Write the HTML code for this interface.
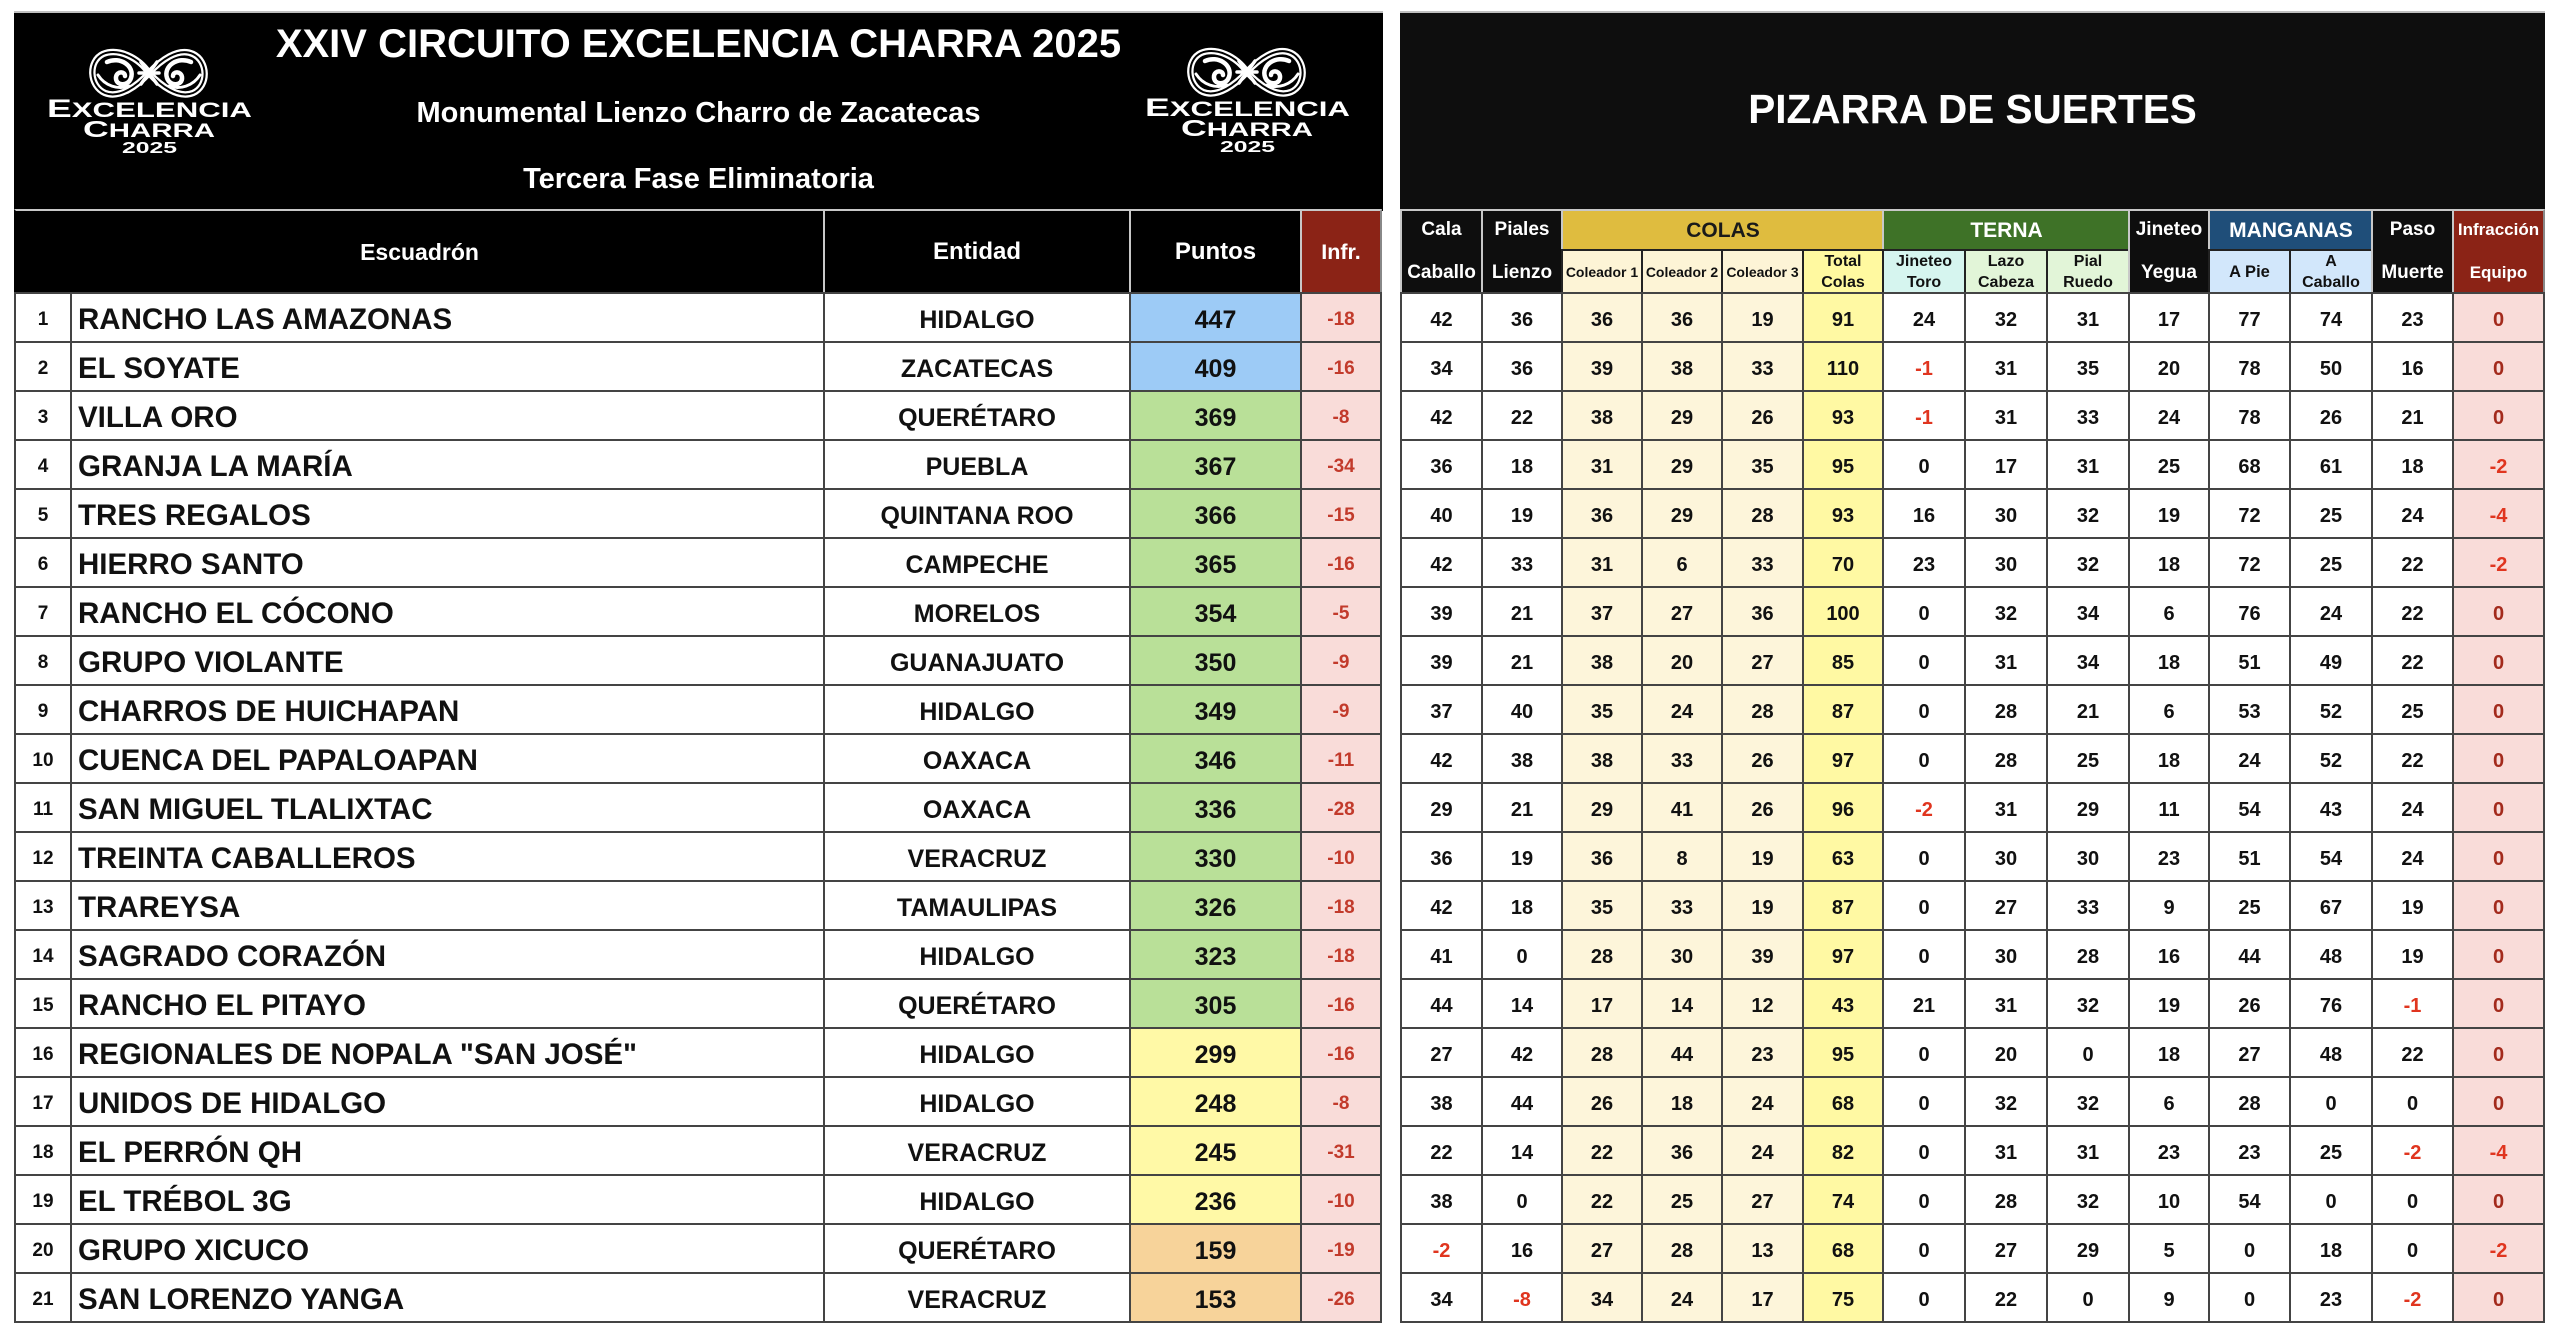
<!DOCTYPE html>
<html><head><meta charset="utf-8">
<style>
html,body{margin:0;padding:0;}
body{width:2560px;height:1338px;background:#fff;position:relative;overflow:hidden;font-family:"Liberation Sans",Arial,sans-serif;font-weight:bold;color:#111;}
.a{position:absolute;box-sizing:border-box;}
.r{position:absolute;left:0;width:2560px;height:49px;}
.c{position:absolute;box-sizing:border-box;top:0;height:49px;display:flex;align-items:center;justify-content:center;border-left:2px solid #444;border-top:2px solid #444;font-weight:bold;white-space:nowrap;padding-top:5px;}
.r.last .c{height:51px;border-bottom:2px solid #444;}
.L0{left:14px;width:56px;font-size:19px;}
.L1{left:70px;width:753px;justify-content:flex-start;padding-left:6px;font-size:29.5px;}
.L2{left:823px;width:306px;font-size:25px;}
.L3{left:1129px;width:171px;font-size:25px;}
.L4{left:1300px;width:82px;border-right:2px solid #444;background:#f9dcd9;color:#c23a2b;font-size:19px;}
.pb{background:#9dcbf6;}.pg{background:#b9e098;}.py{background:#fff9a6;}.po{background:#f7d39a;}
.R0{left:1400px;width:81px}.R1{left:1481px;width:80px}.R2{left:1561px;width:80px;background:#fdf5da}
.R3{left:1641px;width:80px;background:#fdf5da}.R4{left:1721px;width:81px;background:#fdf5da}
.R5{left:1802px;width:80px;background:#fff9a3}.R6{left:1882px;width:82px}.R7{left:1964px;width:82px}
.R8{left:2046px;width:82px}.R9{left:2128px;width:80px}.R10{left:2208px;width:81px}
.R11{left:2289px;width:82px}.R12{left:2371px;width:81px}
.R13{left:2452px;width:93px;border-right:2px solid #444;background:#f9dcd9;color:#a32a1c}
.R0,.R1,.R2,.R3,.R4,.R5,.R6,.R7,.R8,.R9,.R10,.R11,.R12,.R13{font-size:20px;}
.n{color:#e0351f !important;}
.hb{position:absolute;box-sizing:border-box;background:#000;color:#fff;display:flex;align-items:center;justify-content:center;border-left:2px solid #c8c8c8;border-top:2px solid #c8c8c8;}
.t{position:absolute;text-align:center;color:#fff;white-space:nowrap;}
.hk{position:absolute;box-sizing:border-box;top:209px;height:84px;background:#0e0e0e;color:#fff;border-left:2px solid #c8c8c8;border-top:2px solid #c8c8c8;font-size:19px;}
.hk .l1{position:absolute;left:0;right:0;top:0;height:38px;line-height:38px;text-align:center;}
.hk .l2{position:absolute;left:0;right:0;top:40px;height:44px;line-height:44px;text-align:center;}
.band{position:absolute;box-sizing:border-box;top:209px;height:41px;border-left:2px solid #c8c8c8;border-top:2px solid #c8c8c8;display:flex;align-items:center;justify-content:center;font-size:21px;}
.sub{position:absolute;box-sizing:border-box;top:249px;height:44px;border-left:2px solid #222;border-top:2px solid #222;display:flex;align-items:center;justify-content:center;text-align:center;font-size:16px;line-height:21px;color:#111;}
</style></head><body>

<!-- LEFT PANEL HEADER -->
<div class="a" style="left:14px;top:11px;width:1369px;height:200px;background:#000;border-top:2px solid #c0c0c0;"></div>
<div class="t" style="left:14px;width:1369px;top:24px;height:40px;line-height:40px;font-size:40px;">XXIV CIRCUITO EXCELENCIA CHARRA 2025</div>
<div class="t" style="left:14px;width:1369px;top:97px;height:32px;line-height:32px;font-size:29px;">Monumental Lienzo Charro de Zacatecas</div>
<div class="t" style="left:14px;width:1369px;top:163px;height:32px;line-height:32px;font-size:29px;">Tercera Fase Eliminatoria</div>

<!-- logos -->
<svg class="a" style="left:40px;top:45px;" width="230" height="115" viewBox="0 0 230 115">
<g fill="none" stroke-linecap="round">
<path d="M109,28 C98,12 78,3 63,9 C48,16 49,41 65,48 C80,54 98,40 109,28 C120,16 138,2 153,9 C168,16 169,41 153,48 C138,54 120,40 109,28 Z" stroke="#fff" stroke-width="6.5"/>
<path d="M109,28 C98,12 78,3 63,9 C48,16 49,41 65,48 C80,54 98,40 109,28 C120,16 138,2 153,9 C168,16 169,41 153,48 C138,54 120,40 109,28 Z" stroke="#000" stroke-width="2"/>
<path d="M67,17 C80,11 95,21 91,33 C88,42 75,41 76,32 C77,26 85,26 85,31" stroke="#fff" stroke-width="4.5"/>
<path d="M151,17 C138,11 123,21 127,33 C130,42 143,41 142,32 C141,26 133,26 133,31" stroke="#fff" stroke-width="4.5"/>
<path d="M58,30 C65,41 78,45 89,41 M160,30 C153,41 140,45 129,41" stroke="#fff" stroke-width="3"/>
<path d="M101,17 L117,39 M117,17 L101,39 M99,28 L119,28" stroke="#fff" stroke-width="3.5"/>
</g>
<text x="7" y="72" textLength="205" lengthAdjust="spacingAndGlyphs" font-family="Liberation Sans, sans-serif" font-weight="bold" font-size="21" fill="#fff"><tspan font-size="25">E</tspan>XCELENCIA</text>
<text x="43" y="92" textLength="132" lengthAdjust="spacingAndGlyphs" font-family="Liberation Sans, sans-serif" font-weight="bold" font-size="19" fill="#fff"><tspan font-size="23">C</tspan>HARRA</text>
<text x="82" y="108" textLength="55" lengthAdjust="spacingAndGlyphs" font-family="Liberation Sans, sans-serif" font-weight="bold" font-size="16" fill="#fff">2025</text>
</svg>
<svg class="a" style="left:1138px;top:44px;" width="230" height="115" viewBox="0 0 230 115">
<g fill="none" stroke-linecap="round">
<path d="M109,28 C98,12 78,3 63,9 C48,16 49,41 65,48 C80,54 98,40 109,28 C120,16 138,2 153,9 C168,16 169,41 153,48 C138,54 120,40 109,28 Z" stroke="#fff" stroke-width="6.5"/>
<path d="M109,28 C98,12 78,3 63,9 C48,16 49,41 65,48 C80,54 98,40 109,28 C120,16 138,2 153,9 C168,16 169,41 153,48 C138,54 120,40 109,28 Z" stroke="#000" stroke-width="2"/>
<path d="M67,17 C80,11 95,21 91,33 C88,42 75,41 76,32 C77,26 85,26 85,31" stroke="#fff" stroke-width="4.5"/>
<path d="M151,17 C138,11 123,21 127,33 C130,42 143,41 142,32 C141,26 133,26 133,31" stroke="#fff" stroke-width="4.5"/>
<path d="M58,30 C65,41 78,45 89,41 M160,30 C153,41 140,45 129,41" stroke="#fff" stroke-width="3"/>
<path d="M101,17 L117,39 M117,17 L101,39 M99,28 L119,28" stroke="#fff" stroke-width="3.5"/>
</g>
<text x="7" y="72" textLength="205" lengthAdjust="spacingAndGlyphs" font-family="Liberation Sans, sans-serif" font-weight="bold" font-size="21" fill="#fff"><tspan font-size="25">E</tspan>XCELENCIA</text>
<text x="43" y="92" textLength="132" lengthAdjust="spacingAndGlyphs" font-family="Liberation Sans, sans-serif" font-weight="bold" font-size="19" fill="#fff"><tspan font-size="23">C</tspan>HARRA</text>
<text x="82" y="108" textLength="55" lengthAdjust="spacingAndGlyphs" font-family="Liberation Sans, sans-serif" font-weight="bold" font-size="16" fill="#fff">2025</text>
</svg>

<!-- LEFT HEADER ROW -->
<div class="hb" style="left:14px;top:209px;width:809px;height:84px;font-size:23px;border-left-color:#000;">Escuadrón</div>
<div class="hb" style="left:823px;top:209px;width:306px;height:84px;font-size:24px;">Entidad</div>
<div class="hb" style="left:1129px;top:209px;width:171px;height:84px;font-size:24px;">Puntos</div>
<div class="hb" style="left:1300px;top:209px;width:82px;height:84px;font-size:21.5px;background:#8b2316;border-right:2px solid #888;">Infr.</div>

<!-- RIGHT PANEL HEADER -->
<div class="a" style="left:1400px;top:11px;width:1145px;height:200px;background:#0e0e0e;border-top:2px solid #c0c0c0;"></div>
<div class="t" style="left:1400px;width:1145px;top:89px;height:40px;line-height:40px;font-size:40.5px;">PIZARRA DE SUERTES</div>

<div class="hk" style="left:1400px;width:81px;"><div class="l1">Cala</div><div class="l2">Caballo</div></div>
<div class="hk" style="left:1481px;width:80px;"><div class="l1">Piales</div><div class="l2">Lienzo</div></div>
<div class="band" style="left:1561px;width:322px;background:#dfbc3f;color:#1a1a1a;">COLAS</div>
<div class="sub" style="left:1561px;width:80px;background:#fdf4d6;font-size:14px;">Coleador 1</div>
<div class="sub" style="left:1641px;width:80px;background:#fdf4d6;font-size:14px;">Coleador 2</div>
<div class="sub" style="left:1721px;width:81px;background:#fdf4d6;font-size:14px;">Coleador 3</div>
<div class="sub" style="left:1802px;width:80px;background:#fff9a0;">Total<br>Colas</div>
<div class="band" style="left:1882px;width:247px;background:#3e7227;color:#fff;">TERNA</div>
<div class="sub" style="left:1882px;width:82px;background:#d6f5ef;">Jineteo<br>Toro</div>
<div class="sub" style="left:1964px;width:82px;background:#e2f5d8;">Lazo<br>Cabeza</div>
<div class="sub" style="left:2046px;width:82px;background:#e2f5d8;">Pial<br>Ruedo</div>
<div class="hk" style="left:2128px;width:80px;"><div class="l1">Jineteo</div><div class="l2">Yegua</div></div>
<div class="band" style="left:2208px;width:164px;background:#1f4e79;color:#fff;">MANGANAS</div>
<div class="sub" style="left:2208px;width:81px;background:#d2e7fb;font-size:16.5px;">A Pie</div>
<div class="sub" style="left:2289px;width:82px;background:#d2e7fb;">A<br>Caballo</div>
<div class="hk" style="left:2371px;width:81px;"><div class="l1">Paso</div><div class="l2">Muerte</div></div>
<div class="hk" style="left:2452px;width:93px;background:#8b2316;font-size:17px;border-right:2px solid #888;"><div class="l1">Infracción</div><div class="l2">Equipo</div></div>

<!-- DATA ROWS -->
<div class="r" style="top:292px"><b class="c L0">1</b><b class="c L1">RANCHO LAS AMAZONAS</b><b class="c L2">HIDALGO</b><b class="c L3 pb">447</b><b class="c L4">-18</b><b class="c R0">42</b><b class="c R1">36</b><b class="c R2">36</b><b class="c R3">36</b><b class="c R4">19</b><b class="c R5">91</b><b class="c R6">24</b><b class="c R7">32</b><b class="c R8">31</b><b class="c R9">17</b><b class="c R10">77</b><b class="c R11">74</b><b class="c R12">23</b><b class="c R13">0</b></div>
<div class="r" style="top:341px"><b class="c L0">2</b><b class="c L1">EL SOYATE</b><b class="c L2">ZACATECAS</b><b class="c L3 pb">409</b><b class="c L4">-16</b><b class="c R0">34</b><b class="c R1">36</b><b class="c R2">39</b><b class="c R3">38</b><b class="c R4">33</b><b class="c R5">110</b><b class="c R6 n">-1</b><b class="c R7">31</b><b class="c R8">35</b><b class="c R9">20</b><b class="c R10">78</b><b class="c R11">50</b><b class="c R12">16</b><b class="c R13">0</b></div>
<div class="r" style="top:390px"><b class="c L0">3</b><b class="c L1">VILLA ORO</b><b class="c L2">QUERÉTARO</b><b class="c L3 pg">369</b><b class="c L4">-8</b><b class="c R0">42</b><b class="c R1">22</b><b class="c R2">38</b><b class="c R3">29</b><b class="c R4">26</b><b class="c R5">93</b><b class="c R6 n">-1</b><b class="c R7">31</b><b class="c R8">33</b><b class="c R9">24</b><b class="c R10">78</b><b class="c R11">26</b><b class="c R12">21</b><b class="c R13">0</b></div>
<div class="r" style="top:439px"><b class="c L0">4</b><b class="c L1">GRANJA LA MARÍA</b><b class="c L2">PUEBLA</b><b class="c L3 pg">367</b><b class="c L4">-34</b><b class="c R0">36</b><b class="c R1">18</b><b class="c R2">31</b><b class="c R3">29</b><b class="c R4">35</b><b class="c R5">95</b><b class="c R6">0</b><b class="c R7">17</b><b class="c R8">31</b><b class="c R9">25</b><b class="c R10">68</b><b class="c R11">61</b><b class="c R12">18</b><b class="c R13 n">-2</b></div>
<div class="r" style="top:488px"><b class="c L0">5</b><b class="c L1">TRES REGALOS</b><b class="c L2">QUINTANA ROO</b><b class="c L3 pg">366</b><b class="c L4">-15</b><b class="c R0">40</b><b class="c R1">19</b><b class="c R2">36</b><b class="c R3">29</b><b class="c R4">28</b><b class="c R5">93</b><b class="c R6">16</b><b class="c R7">30</b><b class="c R8">32</b><b class="c R9">19</b><b class="c R10">72</b><b class="c R11">25</b><b class="c R12">24</b><b class="c R13 n">-4</b></div>
<div class="r" style="top:537px"><b class="c L0">6</b><b class="c L1">HIERRO SANTO</b><b class="c L2">CAMPECHE</b><b class="c L3 pg">365</b><b class="c L4">-16</b><b class="c R0">42</b><b class="c R1">33</b><b class="c R2">31</b><b class="c R3">6</b><b class="c R4">33</b><b class="c R5">70</b><b class="c R6">23</b><b class="c R7">30</b><b class="c R8">32</b><b class="c R9">18</b><b class="c R10">72</b><b class="c R11">25</b><b class="c R12">22</b><b class="c R13 n">-2</b></div>
<div class="r" style="top:586px"><b class="c L0">7</b><b class="c L1">RANCHO EL CÓCONO</b><b class="c L2">MORELOS</b><b class="c L3 pg">354</b><b class="c L4">-5</b><b class="c R0">39</b><b class="c R1">21</b><b class="c R2">37</b><b class="c R3">27</b><b class="c R4">36</b><b class="c R5">100</b><b class="c R6">0</b><b class="c R7">32</b><b class="c R8">34</b><b class="c R9">6</b><b class="c R10">76</b><b class="c R11">24</b><b class="c R12">22</b><b class="c R13">0</b></div>
<div class="r" style="top:635px"><b class="c L0">8</b><b class="c L1">GRUPO VIOLANTE</b><b class="c L2">GUANAJUATO</b><b class="c L3 pg">350</b><b class="c L4">-9</b><b class="c R0">39</b><b class="c R1">21</b><b class="c R2">38</b><b class="c R3">20</b><b class="c R4">27</b><b class="c R5">85</b><b class="c R6">0</b><b class="c R7">31</b><b class="c R8">34</b><b class="c R9">18</b><b class="c R10">51</b><b class="c R11">49</b><b class="c R12">22</b><b class="c R13">0</b></div>
<div class="r" style="top:684px"><b class="c L0">9</b><b class="c L1">CHARROS DE HUICHAPAN</b><b class="c L2">HIDALGO</b><b class="c L3 pg">349</b><b class="c L4">-9</b><b class="c R0">37</b><b class="c R1">40</b><b class="c R2">35</b><b class="c R3">24</b><b class="c R4">28</b><b class="c R5">87</b><b class="c R6">0</b><b class="c R7">28</b><b class="c R8">21</b><b class="c R9">6</b><b class="c R10">53</b><b class="c R11">52</b><b class="c R12">25</b><b class="c R13">0</b></div>
<div class="r" style="top:733px"><b class="c L0">10</b><b class="c L1">CUENCA DEL PAPALOAPAN</b><b class="c L2">OAXACA</b><b class="c L3 pg">346</b><b class="c L4">-11</b><b class="c R0">42</b><b class="c R1">38</b><b class="c R2">38</b><b class="c R3">33</b><b class="c R4">26</b><b class="c R5">97</b><b class="c R6">0</b><b class="c R7">28</b><b class="c R8">25</b><b class="c R9">18</b><b class="c R10">24</b><b class="c R11">52</b><b class="c R12">22</b><b class="c R13">0</b></div>
<div class="r" style="top:782px"><b class="c L0">11</b><b class="c L1">SAN MIGUEL TLALIXTAC</b><b class="c L2">OAXACA</b><b class="c L3 pg">336</b><b class="c L4">-28</b><b class="c R0">29</b><b class="c R1">21</b><b class="c R2">29</b><b class="c R3">41</b><b class="c R4">26</b><b class="c R5">96</b><b class="c R6 n">-2</b><b class="c R7">31</b><b class="c R8">29</b><b class="c R9">11</b><b class="c R10">54</b><b class="c R11">43</b><b class="c R12">24</b><b class="c R13">0</b></div>
<div class="r" style="top:831px"><b class="c L0">12</b><b class="c L1">TREINTA CABALLEROS</b><b class="c L2">VERACRUZ</b><b class="c L3 pg">330</b><b class="c L4">-10</b><b class="c R0">36</b><b class="c R1">19</b><b class="c R2">36</b><b class="c R3">8</b><b class="c R4">19</b><b class="c R5">63</b><b class="c R6">0</b><b class="c R7">30</b><b class="c R8">30</b><b class="c R9">23</b><b class="c R10">51</b><b class="c R11">54</b><b class="c R12">24</b><b class="c R13">0</b></div>
<div class="r" style="top:880px"><b class="c L0">13</b><b class="c L1">TRAREYSA</b><b class="c L2">TAMAULIPAS</b><b class="c L3 pg">326</b><b class="c L4">-18</b><b class="c R0">42</b><b class="c R1">18</b><b class="c R2">35</b><b class="c R3">33</b><b class="c R4">19</b><b class="c R5">87</b><b class="c R6">0</b><b class="c R7">27</b><b class="c R8">33</b><b class="c R9">9</b><b class="c R10">25</b><b class="c R11">67</b><b class="c R12">19</b><b class="c R13">0</b></div>
<div class="r" style="top:929px"><b class="c L0">14</b><b class="c L1">SAGRADO CORAZÓN</b><b class="c L2">HIDALGO</b><b class="c L3 pg">323</b><b class="c L4">-18</b><b class="c R0">41</b><b class="c R1">0</b><b class="c R2">28</b><b class="c R3">30</b><b class="c R4">39</b><b class="c R5">97</b><b class="c R6">0</b><b class="c R7">30</b><b class="c R8">28</b><b class="c R9">16</b><b class="c R10">44</b><b class="c R11">48</b><b class="c R12">19</b><b class="c R13">0</b></div>
<div class="r" style="top:978px"><b class="c L0">15</b><b class="c L1">RANCHO EL PITAYO</b><b class="c L2">QUERÉTARO</b><b class="c L3 pg">305</b><b class="c L4">-16</b><b class="c R0">44</b><b class="c R1">14</b><b class="c R2">17</b><b class="c R3">14</b><b class="c R4">12</b><b class="c R5">43</b><b class="c R6">21</b><b class="c R7">31</b><b class="c R8">32</b><b class="c R9">19</b><b class="c R10">26</b><b class="c R11">76</b><b class="c R12 n">-1</b><b class="c R13">0</b></div>
<div class="r" style="top:1027px"><b class="c L0">16</b><b class="c L1">REGIONALES DE NOPALA "SAN JOSÉ"</b><b class="c L2">HIDALGO</b><b class="c L3 py">299</b><b class="c L4">-16</b><b class="c R0">27</b><b class="c R1">42</b><b class="c R2">28</b><b class="c R3">44</b><b class="c R4">23</b><b class="c R5">95</b><b class="c R6">0</b><b class="c R7">20</b><b class="c R8">0</b><b class="c R9">18</b><b class="c R10">27</b><b class="c R11">48</b><b class="c R12">22</b><b class="c R13">0</b></div>
<div class="r" style="top:1076px"><b class="c L0">17</b><b class="c L1">UNIDOS DE HIDALGO</b><b class="c L2">HIDALGO</b><b class="c L3 py">248</b><b class="c L4">-8</b><b class="c R0">38</b><b class="c R1">44</b><b class="c R2">26</b><b class="c R3">18</b><b class="c R4">24</b><b class="c R5">68</b><b class="c R6">0</b><b class="c R7">32</b><b class="c R8">32</b><b class="c R9">6</b><b class="c R10">28</b><b class="c R11">0</b><b class="c R12">0</b><b class="c R13">0</b></div>
<div class="r" style="top:1125px"><b class="c L0">18</b><b class="c L1">EL PERRÓN QH</b><b class="c L2">VERACRUZ</b><b class="c L3 py">245</b><b class="c L4">-31</b><b class="c R0">22</b><b class="c R1">14</b><b class="c R2">22</b><b class="c R3">36</b><b class="c R4">24</b><b class="c R5">82</b><b class="c R6">0</b><b class="c R7">31</b><b class="c R8">31</b><b class="c R9">23</b><b class="c R10">23</b><b class="c R11">25</b><b class="c R12 n">-2</b><b class="c R13 n">-4</b></div>
<div class="r" style="top:1174px"><b class="c L0">19</b><b class="c L1">EL TRÉBOL 3G</b><b class="c L2">HIDALGO</b><b class="c L3 py">236</b><b class="c L4">-10</b><b class="c R0">38</b><b class="c R1">0</b><b class="c R2">22</b><b class="c R3">25</b><b class="c R4">27</b><b class="c R5">74</b><b class="c R6">0</b><b class="c R7">28</b><b class="c R8">32</b><b class="c R9">10</b><b class="c R10">54</b><b class="c R11">0</b><b class="c R12">0</b><b class="c R13">0</b></div>
<div class="r" style="top:1223px"><b class="c L0">20</b><b class="c L1">GRUPO XICUCO</b><b class="c L2">QUERÉTARO</b><b class="c L3 po">159</b><b class="c L4">-19</b><b class="c R0 n">-2</b><b class="c R1">16</b><b class="c R2">27</b><b class="c R3">28</b><b class="c R4">13</b><b class="c R5">68</b><b class="c R6">0</b><b class="c R7">27</b><b class="c R8">29</b><b class="c R9">5</b><b class="c R10">0</b><b class="c R11">18</b><b class="c R12">0</b><b class="c R13 n">-2</b></div>
<div class="r last" style="top:1272px"><b class="c L0">21</b><b class="c L1">SAN LORENZO YANGA</b><b class="c L2">VERACRUZ</b><b class="c L3 po">153</b><b class="c L4">-26</b><b class="c R0">34</b><b class="c R1 n">-8</b><b class="c R2">34</b><b class="c R3">24</b><b class="c R4">17</b><b class="c R5">75</b><b class="c R6">0</b><b class="c R7">22</b><b class="c R8">0</b><b class="c R9">9</b><b class="c R10">0</b><b class="c R11">23</b><b class="c R12 n">-2</b><b class="c R13">0</b></div>

</body></html>
